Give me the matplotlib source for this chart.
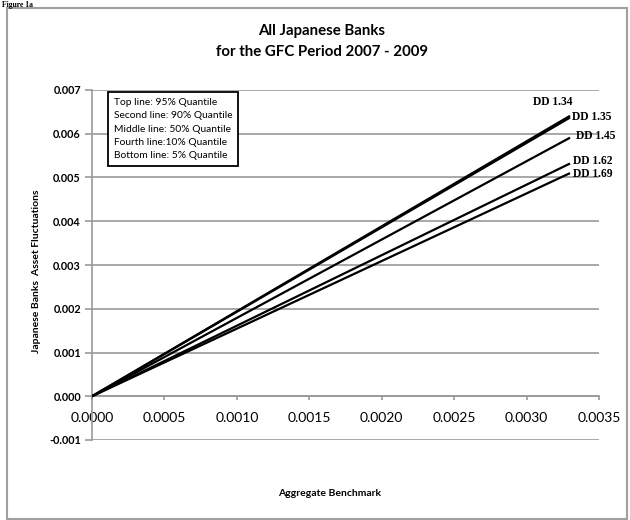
import numpy as np
import matplotlib.pyplot as plt
from matplotlib.patches import Rectangle

plt.rcParams['font.family'] = ['Lato', 'DejaVu Sans']

# data
x_start = 0.0
x_end = 0.0033
dd_labels = ['DD 1.34', 'DD 1.35', 'DD 1.45', 'DD 1.62', 'DD 1.69']
y_end = [0.00641, 0.00637, 0.00591, 0.00532, 0.00510]
legend_lines = ['Top line: 95% Quantile',
                'Second line: 90% Quantile',
                'Middle line: 50% Quantile',
                'Fourth line:10% Quantile',
                'Bottom line: 5% Quantile']
xticks = [0.0, 0.0005, 0.0010, 0.0015, 0.0020, 0.0025, 0.0030, 0.0035]
yticks = [-0.001, 0.0, 0.001, 0.002, 0.003, 0.004, 0.005, 0.006, 0.007]

# label offsets in points from the end of each line
label_off = [(-27, 10), (1.5, 0.5), (4, 1.5), (2, 1.5), (2, -0.5)]

fig = plt.figure(figsize=(6.3, 5.2), dpi=100)
ax = fig.add_axes([92/630, 1-440/520, (599-92)/630, (440-90)/520])

grey = '#9a9a9a'
for i, lab in enumerate(dd_labels):
    ax.plot([x_start, x_end], [0.0, y_end[i]], color='black', lw=1.6, solid_capstyle='butt', zorder=3)
    ax.annotate(lab, xy=(x_end, y_end[i]), xytext=label_off[i], textcoords='offset points',
                ha='left', va='center', fontsize=8.3, fontweight='bold',
                family='Liberation Serif', zorder=4)

ax.set_xlim(0, 0.0035)
ax.set_ylim(-0.001, 0.007)
ax.set_xticks(xticks)
ax.set_yticks(yticks)
ax.set_xticklabels(['%.4f' % v for v in xticks], fontweight='bold', fontsize=7.8)
ax.set_yticklabels(['%.3f' % v for v in yticks], fontweight='bold', fontsize=7.8)

ax.grid(axis='y', color=grey, lw=1.2)
ax.set_axisbelow(True)
ax.spines['bottom'].set_position(('data', 0))
ax.spines['top'].set_visible(False)
ax.spines['right'].set_visible(False)
ax.spines['bottom'].set_color(grey)
ax.spines['left'].set_color(grey)
ax.spines['bottom'].set_linewidth(1.2)
ax.spines['left'].set_linewidth(1.2)
ax.tick_params(axis='x', direction='out', length=3, pad=8, color=grey, width=1.2)
ax.tick_params(axis='y', direction='out', length=5, pad=3, color=grey, width=1.2)

# quantile note box
ax.text(0.000152, 0.00682, '\n'.join(legend_lines), fontsize=7.4, va='top', ha='left',
        linespacing=1.62,
        bbox=dict(boxstyle='square,pad=0.55', fc='white', ec='black', lw=1.3), zorder=5)

fig.text(322/630, 1-31/520, 'All Japanese Banks', ha='center', va='center',
         fontsize=10.8, fontweight='bold')
fig.text(322/630, 1-52/520, 'for the GFC Period 2007 - 2009', ha='center', va='center',
         fontsize=10.8, fontweight='bold')
fig.text(330/630, 1-493/520, 'Aggregate Benchmark', ha='center', va='center',
         fontsize=7.5, fontweight='bold')
fig.text(37/630, 1-271/520, 'Japanese Banks  Asset Fluctuations', ha='center', va='center',
         rotation=90, fontsize=7.5, fontweight='bold')
fig.text(0.003, 0.999, 'Figure 1a', ha='left', va='top', fontsize=5.5, fontweight='bold',
         family='Liberation Serif')

fig.patches.append(Rectangle((7/630, 1/520), 620/630, 511/520, transform=fig.transFigure,
                             fill=False, ec='#a0a0a0', lw=1.5))

fig.savefig('out.png', dpi=100)
